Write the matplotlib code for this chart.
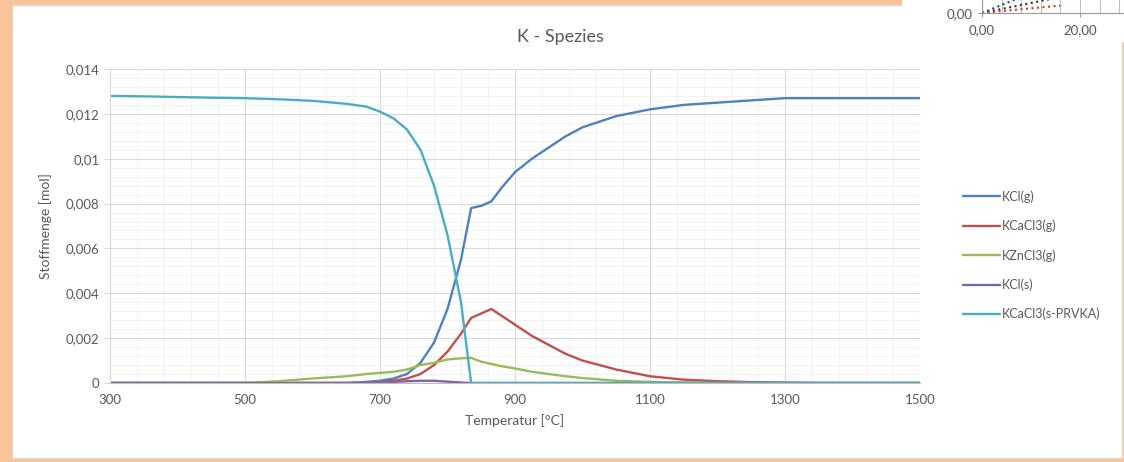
import numpy as np
import matplotlib
matplotlib.use('Agg')
import matplotlib.pyplot as plt
from matplotlib.patches import Rectangle
from matplotlib.ticker import MultipleLocator, FixedLocator, FuncFormatter

plt.rcParams['font.family'] = ['Lato', 'DejaVu Sans']

# temperature grid [°C]
temp = [300, 350, 400, 450, 500, 550, 600, 650, 680, 700, 720, 740, 760, 780,
        800, 820, 835, 850, 865, 880, 900, 925, 950, 975, 1000, 1050, 1100,
        1150, 1200, 1250, 1300, 1350, 1400, 1450, 1500]

kcl_g = [0, 0, 0, 0, 0, 0, 0, 0, 0.00005, 0.0001, 0.0002, 0.0004, 0.0009, 0.0018,
         0.0033, 0.0055, 0.0078, 0.0079, 0.0081, 0.0087, 0.0094, 0.0100, 0.0105,
         0.0110, 0.0114, 0.0119, 0.0122, 0.0124, 0.0125, 0.0126, 0.0127, 0.0127,
         0.0127, 0.0127, 0.0127]

kcacl3_g = [0, 0, 0, 0, 0, 0, 0, 0, 0, 0.00003, 0.0001, 0.0002, 0.0004, 0.0008,
            0.0014, 0.0022, 0.0029, 0.0031, 0.0033, 0.0030, 0.0026, 0.0021, 0.0017,
            0.0013, 0.0010, 0.0006, 0.0003, 0.00015, 0.00008, 0.00004, 0.00002,
            0, 0, 0, 0]

kzncl3_g = [0, 0, 0, 0, 0, 0.00008, 0.0002, 0.0003, 0.0004, 0.00045, 0.0005,
            0.0006, 0.0008, 0.0009, 0.00105, 0.0011, 0.00112, 0.00095, 0.00085,
            0.00075, 0.00065, 0.0005, 0.0004, 0.0003, 0.00022, 0.0001, 0.00005,
            0.00002, 0, 0, 0, 0, 0, 0, 0]

kcl_s = [0, 0, 0, 0, 0, 0, 0, 0, 0, 0.00002, 0.00005, 0.00008, 0.0001, 0.0001,
         0.00006, 0.00002, 0, 0, 0, 0, 0, 0, 0, 0, 0, 0, 0, 0, 0, 0, 0, 0, 0, 0, 0]

kcacl3_s = [0.0128, 0.01278, 0.01275, 0.01272, 0.0127, 0.01265, 0.01258, 0.01245,
            0.01232, 0.0121, 0.0118, 0.0113, 0.0104, 0.0088, 0.0066, 0.0036, 0,
            0, 0, 0, 0, 0, 0, 0, 0, 0, 0, 0, 0, 0, 0, 0, 0, 0, 0]

series = [('KCl(g)', kcl_g, '#4F81BD'),
          ('KCaCl3(g)', kcacl3_g, '#C0504D'),
          ('KZnCl3(g)', kzncl3_g, '#9BBB59'),
          ('KCl(s)', kcl_s, '#8064A2'),
          ('KCaCl3(s-PRVKA)', kcacl3_s, '#4BACC6')]

x_ticks = [300, 500, 700, 900, 1100, 1300, 1500]

# bit of the neighbouring chart peeking in at the top right
inset_x = [0, 4, 8, 12, 16]
inset_blue = [0, 0.6, 1.2, 1.8, 2.4]
inset_black = [0, 0.3, 0.6, 0.9, 1.2]
inset_red = [0, 0.14, 0.28, 0.42, 0.56]

W, H = 1124, 462
fig = plt.figure(figsize=(W / 100, H / 100), dpi=100)
fig.patch.set_facecolor('#FAC398')

# white chart panel
fig.add_artist(Rectangle((12 / W, 4 / H), (1110 / W), (453 / H), transform=fig.transFigure,
                         facecolor='white', edgecolor='#D9D9D9', lw=1, zorder=0))
fig.add_artist(Rectangle((902 / W, 420 / H), (222 / W), (42 / H), transform=fig.transFigure,
                         facecolor='white', edgecolor='none', zorder=0))

ax = fig.add_axes([110 / W, 79 / H, 810 / W, 314 / H])
for name, vals, col in series:
    ax.plot(temp, vals, color=col, lw=1.7, label=name, solid_capstyle='round')

ax.set_xlim(300, 1500)
ax.set_ylim(0, 0.014)
ax.xaxis.set_major_locator(FixedLocator(x_ticks))
ax.xaxis.set_minor_locator(FixedLocator(np.arange(300, 1501, 40)))
ax.yaxis.set_major_locator(MultipleLocator(0.002))
ax.yaxis.set_minor_locator(MultipleLocator(0.0004))
ax.yaxis.set_major_formatter(FuncFormatter(lambda v, p: ('%g' % round(v, 4)).replace('.', ',')))
ax.grid(which='major', color='#D9D9D9', lw=0.8)
ax.grid(which='minor', color='#F0F0F0', lw=0.6)
ax.set_axisbelow(True)
for s in ['top', 'right']:
    ax.spines[s].set_visible(False)
ax.spines['left'].set_color('#D9D9D9')
ax.spines['bottom'].set_color('#BFBFBF')
ax.tick_params(axis='x', which='both', length=0, colors='#595959', labelsize=9.5, pad=8)
ax.tick_params(axis='y', which='major', length=4, color='#D9D9D9', colors='#595959', labelsize=9.5)
ax.tick_params(axis='y', which='minor', length=0)

ax.set_xlabel('Temperatur [°C]', color='#595959', fontsize=10, labelpad=6)
ax.set_ylabel('Stoffmenge [mol]', color='#595959', fontsize=10, labelpad=10)
fig.text(560 / W, 1 - 37 / H, 'K - Spezies', ha='center', va='center', color='#595959', fontsize=13)

fig.legend(loc='upper left', bbox_to_anchor=(952 / W, 1 - 179 / H), frameon=False,
           fontsize=9, labelcolor='#595959', handlelength=2.9, handletextpad=0.2,
           labelspacing=1.35)

# inset fragment
ins = fig.add_axes([982 / W, 1 - 13 / H, 142 / W, 40 / H])
ins.plot(inset_x, inset_blue, color='#2E3B9E', ls=':', lw=1.5)
ins.plot(inset_x, inset_black, color='#333333', ls=':', lw=1.5)
ins.plot(inset_x, inset_red, color='#D9342B', ls=':', lw=1.5)
ins.set_xlim(0, 29)
ins.set_ylim(0, 3)
ins.xaxis.set_major_locator(MultipleLocator(20))
ins.xaxis.set_minor_locator(MultipleLocator(4))
ins.yaxis.set_major_locator(MultipleLocator(5))
ins.xaxis.set_major_formatter(FuncFormatter(lambda v, p: ('%.2f' % v).replace('.', ',')))
ins.yaxis.set_major_formatter(FuncFormatter(lambda v, p: ('%.2f' % v).replace('.', ',')))
ins.grid(which='both', axis='x', color='#BFBFBF', lw=0.8)
for s in ['top', 'right']:
    ins.spines[s].set_visible(False)
ins.spines['left'].set_color('#999999')
ins.spines['bottom'].set_color('#999999')
ins.tick_params(which='both', colors='#555555', labelsize=9.5, length=3, color='#999999')
ins.tick_params(which='minor', length=0)
ins.tick_params(axis='x', pad=5)
ins.set_facecolor('white')

fig.savefig('out.png', dpi=100, facecolor=fig.get_facecolor())
